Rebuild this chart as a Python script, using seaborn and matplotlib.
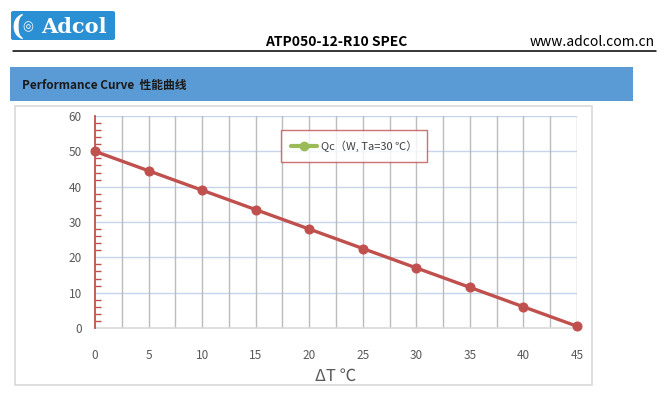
import matplotlib
matplotlib.use("Agg")
import matplotlib.pyplot as plt
import seaborn as sns
import pandas as pd
from matplotlib.lines import Line2D
from matplotlib.patches import Rectangle, FancyBboxPatch
from matplotlib.ticker import MultipleLocator

# ---- data ----
delta_t = [0, 5, 10, 15, 20, 25, 30, 35, 40, 45]
qc = [50, 44.5, 39, 33.5, 28, 22.5, 17, 11.5, 6, 0.5]
x_ticks = [0, 5, 10, 15, 20, 25, 30, 35, 40, 45]
y_ticks = [0, 10, 20, 30, 40, 50, 60]
legend_label = "Qc（W, Ta=30 ℃）"
x_label = "ΔT ℃"
title = "ATP050-12-R10 SPEC"
website = "www.adcol.com.cn"
section = "Performance Curve  性能曲线"

sns.set_style("white")
plt.rcParams['font.family'] = ['Noto Sans CJK SC', 'DejaVu Sans']

W, H = 669, 401
fig = plt.figure(figsize=(W / 100, H / 100), dpi=100)

def fx(px):
    return px / W

def fy(py):
    return 1 - py / H

# ---- header ----
logo = FancyBboxPatch((fx(11), fy(40)), fx(104), (29) / H,
                      boxstyle="round,pad=0,rounding_size=0.004",
                      transform=fig.transFigure, facecolor="#2b8fd3",
                      edgecolor="none")
fig.add_artist(logo)
fig.text(fx(28), fy(27), "◎", color="white", fontsize=9, ha="center", va="center",
         family=['DejaVu Sans'])
fig.text(fx(17), fy(27), "(", color="white", fontsize=20, ha="center", va="center",
         family=['DejaVu Serif'], fontweight="bold")
fig.text(fx(74), fy(27), "Adcol", color="white", fontsize=15, ha="center", va="center",
         family=['DejaVu Serif'], fontweight="bold")
fig.text(fx(336), fy(46), title, fontsize=10, fontweight="bold", ha="center",
         va="baseline", color="black")
fig.text(fx(655), fy(46), website, fontsize=10, ha="right", va="baseline", color="black")
fig.add_artist(Line2D([fx(13), fx(656)], [fy(51), fy(51)], transform=fig.transFigure,
                      color="black", lw=1.1))

# section band
fig.add_artist(Rectangle((fx(10), fy(101)), fx(623), 34 / H, transform=fig.transFigure,
                         facecolor="#5b9bd5", edgecolor="none"))
fig.text(fx(22), fy(85), section, fontsize=8.5, ha="left", va="center", color="#1a1a1a",
         fontweight="bold")

# chart frame
fig.add_artist(Rectangle((fx(15), fy(385)), fx(577), 279 / H, transform=fig.transFigure,
                         facecolor="none", edgecolor="#d9d9d9", lw=1.2))

# ---- plot ----
ax = fig.add_axes([fx(95), fy(328), fx(577 - 95), (328 - 116) / H])
df = pd.DataFrame({"dT": delta_t, "Qc": qc})
sns.lineplot(data=df, x="dT", y="Qc", ax=ax, color="#c0504d", lw=2.4, marker="o",
             markersize=6.5, markeredgecolor="#c0504d", legend=False, zorder=5, clip_on=False)

ax.set_xlim(0, 45)
ax.set_ylim(0, 60)
ax.set_xticks(x_ticks)
ax.set_yticks(y_ticks)
ax.xaxis.set_minor_locator(MultipleLocator(2.5))
ax.yaxis.set_minor_locator(MultipleLocator(2))
ax.grid(False)
for xv in [i * 2.5 for i in range(1, 19)]:
    ax.axvline(xv, color="#bcbcbc", lw=1, zorder=1)
for yv in y_ticks[1:]:
    ax.axhline(yv, color="#c6d4ec", lw=1, zorder=0.5)

for s in ["top", "right"]:
    ax.spines[s].set_visible(False)
ax.spines["bottom"].set_color("#d9d9d9")
ax.spines["bottom"].set_linewidth(1.2)
ax.spines["left"].set_color("#c0504d")
ax.spines["left"].set_linewidth(1.3)
ax.spines["left"].set_zorder(4)

ax.tick_params(axis="y", which="major", direction="inout", length=7, width=1.2,
               color="#c0504d", labelsize=8.5, labelcolor="#595959", pad=6)
ax.tick_params(axis="y", which="minor", direction="in", length=4, width=1,
               color="#c0504d", left=True)
ax.tick_params(axis="x", which="major", direction="out", length=7, width=1,
               color="#d9d9d9", labelsize=8.5, labelcolor="#595959", pad=8)
ax.tick_params(axis="x", which="minor", length=0)
ax.set_xlabel(x_label, fontsize=12, color="#595959", labelpad=4)
ax.set_ylabel("")
ax.set_facecolor("none")

handle = Line2D([], [], color="#9bbb59", lw=3, marker="o", markersize=6)
leg = fig.legend([handle], [legend_label], loc="center",
                 bbox_to_anchor=(fx(354), fy(146)), frameon=True, fancybox=False,
                 fontsize=8, handlelength=2.4, handletextpad=0.3, borderpad=0.9,
                 labelcolor="#404040")
leg.get_frame().set_edgecolor("#c0504d")
leg.get_frame().set_linewidth(1)
leg.set_zorder(10)

fig.savefig("out.png", dpi=100)
